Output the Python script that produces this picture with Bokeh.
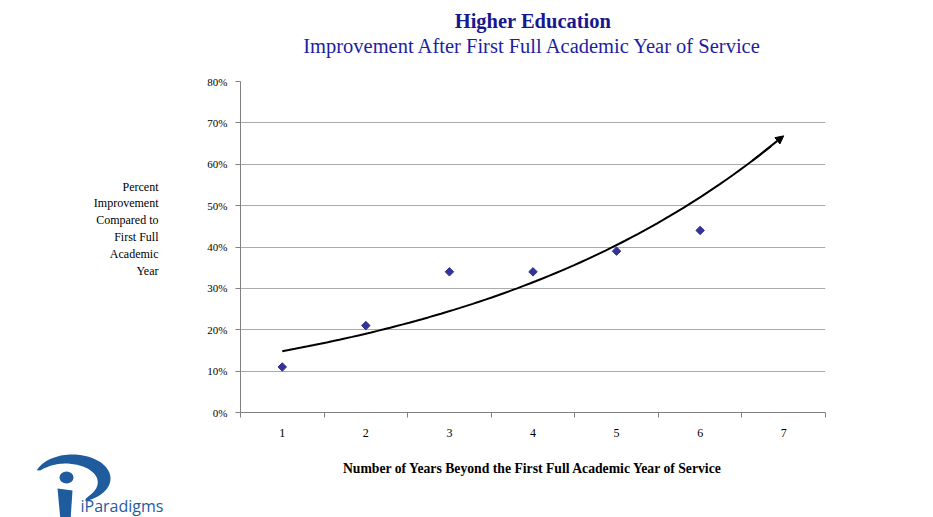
import numpy as np
from bokeh.plotting import figure
from bokeh.layouts import column, row
from bokeh.models import FixedTicker, NumeralTickFormatter, Arrow, NormalHead, Range1d
from bokeh.core.properties import value
from bokeh.embed import file_html
from bokeh.resources import INLINE

# ---- data ----
years = [1, 2, 3, 4, 5, 6]
improvement = [0.11, 0.21, 0.34, 0.34, 0.39, 0.44]
x_categories = [1, 2, 3, 4, 5, 6, 7]
y_ticks = [0.0, 0.1, 0.2, 0.3, 0.4, 0.5, 0.6, 0.7, 0.8]

title_text = "Higher Education"
subtitle_text = "Improvement After First Full Academic Year of Service"
ylabel_lines = ["Percent", "Improvement", "Compared to", "First Full", "Academic", "Year"]
xlabel_text = "Number of Years Beyond the First Full Academic Year of Service"
logo_text = "iParadigms"

# exponential trendline (fit of the data, forecast one period forward)
b, ln_a = np.polyfit(years, np.log(improvement), 1)
trend_x = np.linspace(1, 7, 80)
trend_y = np.exp(ln_a + b * trend_x)

SERIF = "Liberation Serif"
PAGE_W, PAGE_H = 933, 517
TOP_H = 60          # titles strip
MID_BOTTOM = 446    # page y where the chart strip ends
LEFT_W = 180
MAIN_W = PAGE_W - LEFT_W
MID_H = MID_BOTTOM - TOP_H
BOT_H = PAGE_H - MID_BOTTOM
FL, FR, FT, FB = 240, 825, 81, 412  # frame in page px
CX = (FL + FR) / 2


def decor(w, h, x0, y0, y1=None, x1=None, **kw):
    f = figure(width=w, height=h, output_backend="svg", toolbar_location=None,
               x_range=Range1d(x0, x1 if x1 is not None else x0 + w),
               y_range=Range1d(y1 if y1 is not None else y0 + h, y0), **kw)
    f.axis.visible = False
    f.grid.visible = False
    f.outline_line_color = None
    return f


# ---- top: titles ----
top = decor(PAGE_W, TOP_H, 0, 0, min_border=0)
top.text(x=[CX], y=[20], text=[title_text], text_font=value(SERIF),
         text_font_style="bold", text_font_size="20.5px", text_color="#17178f",
         text_align="center", text_baseline="middle")
top.text(x=[CX], y=[45], text=[subtitle_text], text_font=value(SERIF),
         text_font_size="20.5px", text_color="#1e1ea0",
         text_align="center", text_baseline="middle")

# ---- left: y label (frame matches the chart frame vertically) ----
left = decor(LEFT_W, MID_H, 0, FT, y1=FB, min_border_left=0, min_border_right=0,
             min_border_top=FT - TOP_H, min_border_bottom=MID_BOTTOM - FB)
left.text(x=[158] * len(ylabel_lines), y=[186 + 16.8 * i for i in range(len(ylabel_lines))],
          text=ylabel_lines, text_font=value(SERIF), text_font_size="12px",
          text_color="#000000", text_align="right", text_baseline="middle")

# ---- main chart ----
p = figure(width=MAIN_W, height=MID_H, output_backend="svg", toolbar_location=None,
           x_range=Range1d(0.5, 7.5), y_range=Range1d(0, 0.8),
           min_border_left=FL - LEFT_W, min_border_right=PAGE_W - FR,
           min_border_top=FT - TOP_H, min_border_bottom=MID_BOTTOM - FB)
p.outline_line_color = None

p.xgrid.grid_line_color = None
p.ygrid.ticker = FixedTicker(ticks=y_ticks)
p.ygrid.grid_line_color = "#ababab"

ya = p.yaxis[0]
ya.ticker = FixedTicker(ticks=y_ticks)
ya.formatter = NumeralTickFormatter(format="0%")
ya.axis_line_color = "#808080"
ya.major_tick_line_color = "#808080"
ya.major_tick_out = 5
ya.major_tick_in = 0
ya.minor_tick_line_color = None
ya.major_label_text_font = SERIF
ya.major_label_text_font_size = "11px"
ya.major_label_text_color = "#000000"
ya.major_label_standoff = 8

xa = p.xaxis[0]
xa.ticker = FixedTicker(ticks=x_categories,
                        minor_ticks=[c - 0.5 for c in x_categories] + [7.5])
xa.axis_line_color = "#808080"
xa.major_tick_line_color = None
xa.major_tick_out = 0
xa.minor_tick_line_color = "#808080"
xa.minor_tick_out = 5
xa.minor_tick_in = 0
xa.major_label_text_font = SERIF
xa.major_label_text_font_size = "12px"
xa.major_label_text_color = "#000000"
xa.major_label_standoff = 11

p.scatter(years, improvement, marker="square", angle=np.pi / 4, size=6,
          color="#333399")

p.line(trend_x[:-2], trend_y[:-2], line_color="black", line_width=2)
p.add_layout(Arrow(end=NormalHead(size=8, fill_color="black", line_color="black"),
                   x_start=trend_x[-6], y_start=trend_y[-6],
                   x_end=trend_x[-1], y_end=trend_y[-1],
                   line_color="black", line_width=2))

# ---- bottom: x label and logo ----
bot = decor(PAGE_W, BOT_H, 0, MID_BOTTOM, min_border=0)
bot.text(x=[CX], y=[468], text=[xlabel_text], text_font=value(SERIF),
         text_font_style="bold", text_font_size="13.7px", text_color="#000000",
         text_align="center", text_baseline="middle")

LOGO = "#1f5c9e"
th = np.radians(np.linspace(160, -70, 60))
ocx, ocy, orx, ory = 72, 478, 38, 24
icx, icy, irx, iry = 69, 480, 27, 16
ox = ocx + orx * np.cos(th); oy = ocy - ory * np.sin(th)
ix = icx + irx * np.cos(th); iy = icy - iry * np.sin(th)
w = np.sin(np.linspace(0, np.pi, 60)) ** 0.4
ix2 = ox * (1 - w) + ix * w; iy2 = oy * (1 - w) + iy * w
bot.patch(list(ox) + list(ix2[::-1]), list(oy) + list(iy2[::-1]),
          fill_color=LOGO, line_color=None)
bot.ellipse(x=[66], y=[477], width=14, height=12, fill_color=LOGO, line_color=None)
bot.patch([57, 72, 70, 60], [488, 490, 520, 520], fill_color=LOGO, line_color=None)
bot.text(x=[80], y=[505], text=[logo_text], text_font=value("Open Sans"),
         text_font_size="16px", text_color=LOGO, text_align="left",
         text_baseline="middle")

layout = column(top, row(left, p), bot)
open("out.html", "w").write(file_html(layout, INLINE))
